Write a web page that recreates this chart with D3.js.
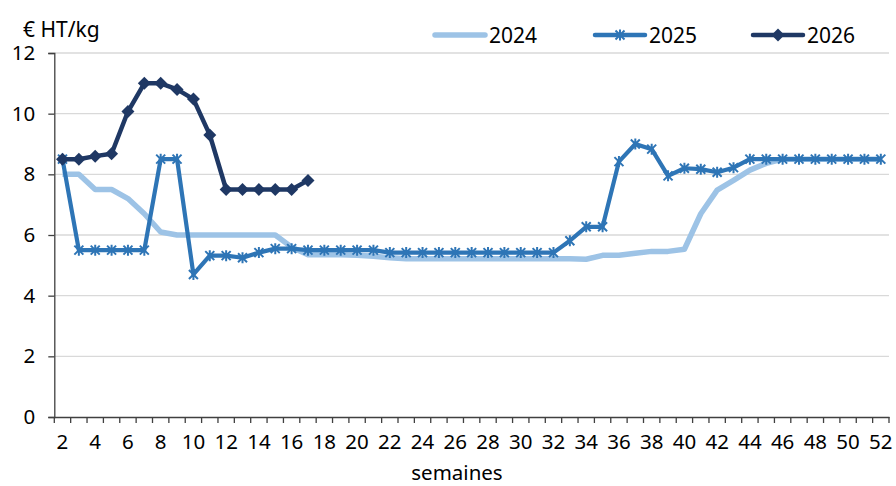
<!DOCTYPE html>
<html><head><meta charset="utf-8">
<script src="https://cdn.jsdelivr.net/npm/d3@7"></script>
<style>body{margin:0;background:#fff}svg{display:block}text{font-family:"Noto Sans","Open Sans",sans-serif;fill:#000}</style>
</head><body>
<svg id="c" width="896" height="486"></svg>
<script>
const weeks = d3.range(2, 53);
const xLabels = weeks.filter(w => w % 2 === 0);
const yTicks = [0, 2, 4, 6, 8, 10, 12];
const seriesNames = ["2024", "2025", "2026"];
const v2024 = [8.0,8.0,7.5,7.5,7.2,6.7,6.1,6.0,6.0,6.0,6.0,6.0,6.0,6.0,5.6,5.35,5.35,5.35,5.33,5.3,5.25,5.22,5.22,5.22,5.22,5.22,5.22,5.22,5.22,5.22,5.22,5.22,5.2,5.33,5.33,5.4,5.46,5.46,5.53,6.7,7.48,7.8,8.14,8.36,8.5,8.5,8.5,8.5,8.5,8.5,8.5];
const v2025 = [8.5,5.5,5.5,5.5,5.5,5.5,8.5,8.5,4.7,5.32,5.32,5.25,5.42,5.55,5.55,5.5,5.5,5.5,5.5,5.5,5.42,5.42,5.42,5.42,5.42,5.42,5.42,5.42,5.42,5.42,5.42,5.81,6.27,6.27,8.42,9.0,8.83,7.95,8.2,8.17,8.07,8.22,8.5,8.5,8.5,8.5,8.5,8.5,8.5,8.5,8.5];
const v2026 = [8.5,8.5,8.6,8.68,10.07,11.0,11.0,10.8,10.48,9.3,7.5,7.5,7.5,7.5,7.5,7.8];
const colors = ["#9dc3e6", "#2e75b6", "#1f3864"];

const svg = d3.select("#c");
const x = d3.scaleBand().domain(weeks).range([54.3, 889]).paddingInner(0).paddingOuter(0);
const y = d3.scaleLinear().domain([0, 12]).range([417, 53]);
const cx = w => x(w) + x.bandwidth() / 2;

// gridlines
svg.append("g").selectAll("line").data(yTicks.filter(t => t > 0)).join("line")
  .attr("x1", 54.3).attr("x2", 889).attr("y1", d => y(d)).attr("y2", d => y(d))
  .attr("stroke", "#d9d9d9").attr("stroke-width", 1.3);

// y axis
const ya = svg.append("g").attr("transform", "translate(54.3,0)")
  .call(d3.axisLeft(y).tickValues(yTicks).tickSize(6).tickPadding(13).tickFormat(d3.format("d")));
ya.select(".domain").attr("stroke", "#404040").attr("stroke-width", 1.3);
ya.selectAll(".tick line").attr("stroke", "#404040").attr("stroke-width", 1.3);
ya.selectAll("text").style("font-size", "20.5px").attr("fill", "#000");

// x axis labels
const xa = svg.append("g").attr("transform", "translate(0,417)")
  .call(d3.axisBottom(x).tickValues(xLabels).tickSize(0).tickPadding(17));
xa.select(".domain").attr("stroke", "#404040").attr("stroke-width", 1.3);
xa.selectAll("text").style("font-size", "20.5px").attr("fill", "#000");
// x tick marks at band boundaries
const bounds = weeks.map(w => x(w)).concat([x(52) + x.bandwidth()]);
svg.append("g").selectAll("line").data(bounds).join("line")
  .attr("x1", d => d).attr("x2", d => d).attr("y1", 417).attr("y2", 423)
  .attr("stroke", "#404040").attr("stroke-width", 1.3);

// titles
svg.append("text").attr("x", 23).attr("y", 37).style("font-size", "21px").text("€ HT/kg");
svg.append("text").attr("x", 457).attr("y", 480).attr("text-anchor", "middle").style("font-size", "20.5px").text("semaines");

const line = d3.line().x(d => cx(d.w)).y(d => y(d.v));
const toPts = arr => arr.map((v, i) => ({ w: weeks[i], v }));

// 2024
svg.append("path").datum(toPts(v2024)).attr("d", line).attr("fill", "none")
  .attr("stroke", colors[0]).attr("stroke-width", 5.5).attr("stroke-linejoin", "round");

// 2025
const p25 = toPts(v2025);
svg.append("path").datum(p25).attr("d", line).attr("fill", "none")
  .attr("stroke", colors[1]).attr("stroke-width", 4.2).attr("stroke-linejoin", "round");
const star = "M-4.5,-4.5L4.5,4.5M-4.5,4.5L4.5,-4.5M0,-5.5L0,5.5";
svg.append("g").selectAll("path").data(p25).join("path")
  .attr("transform", d => `translate(${cx(d.w)},${y(d.v)})`).attr("d", star)
  .attr("stroke", colors[1]).attr("stroke-width", 2).attr("fill", "none");

// 2026
const p26 = toPts(v2026);
svg.append("path").datum(p26).attr("d", line).attr("fill", "none")
  .attr("stroke", colors[2]).attr("stroke-width", 4.5).attr("stroke-linejoin", "round");
svg.append("g").selectAll("path").data(p26).join("path")
  .attr("transform", d => `translate(${cx(d.w)},${y(d.v)})`).attr("d", "M0,-6.5L6.5,0L0,6.5L-6.5,0Z")
  .attr("fill", colors[2]);

// legend
const lg = [{x1: 435, tx: 489}, {x1: 595, tx: 649}, {x1: 753, tx: 807}];
lg.forEach((l, i) => {
  const g = svg.append("g");
  g.append("line").attr("x1", l.x1).attr("x2", l.x1 + 50).attr("y1", 35).attr("y2", 35)
    .attr("stroke", colors[i]).attr("stroke-width", i === 0 ? 5.5 : 4.5).attr("stroke-linecap", "round");
  if (i === 1) g.append("path").attr("transform", `translate(${l.x1 + 25},35)`).attr("d", star)
    .attr("stroke", colors[1]).attr("stroke-width", 2);
  if (i === 2) g.append("path").attr("transform", `translate(${l.x1 + 25},35)`).attr("d", "M0,-6.5L6.5,0L0,6.5L-6.5,0Z")
    .attr("fill", colors[2]);
  g.append("text").attr("x", l.tx).attr("y", 42.5).style("font-size", "21px").text(seriesNames[i]);
});
</script>
</body></html>
